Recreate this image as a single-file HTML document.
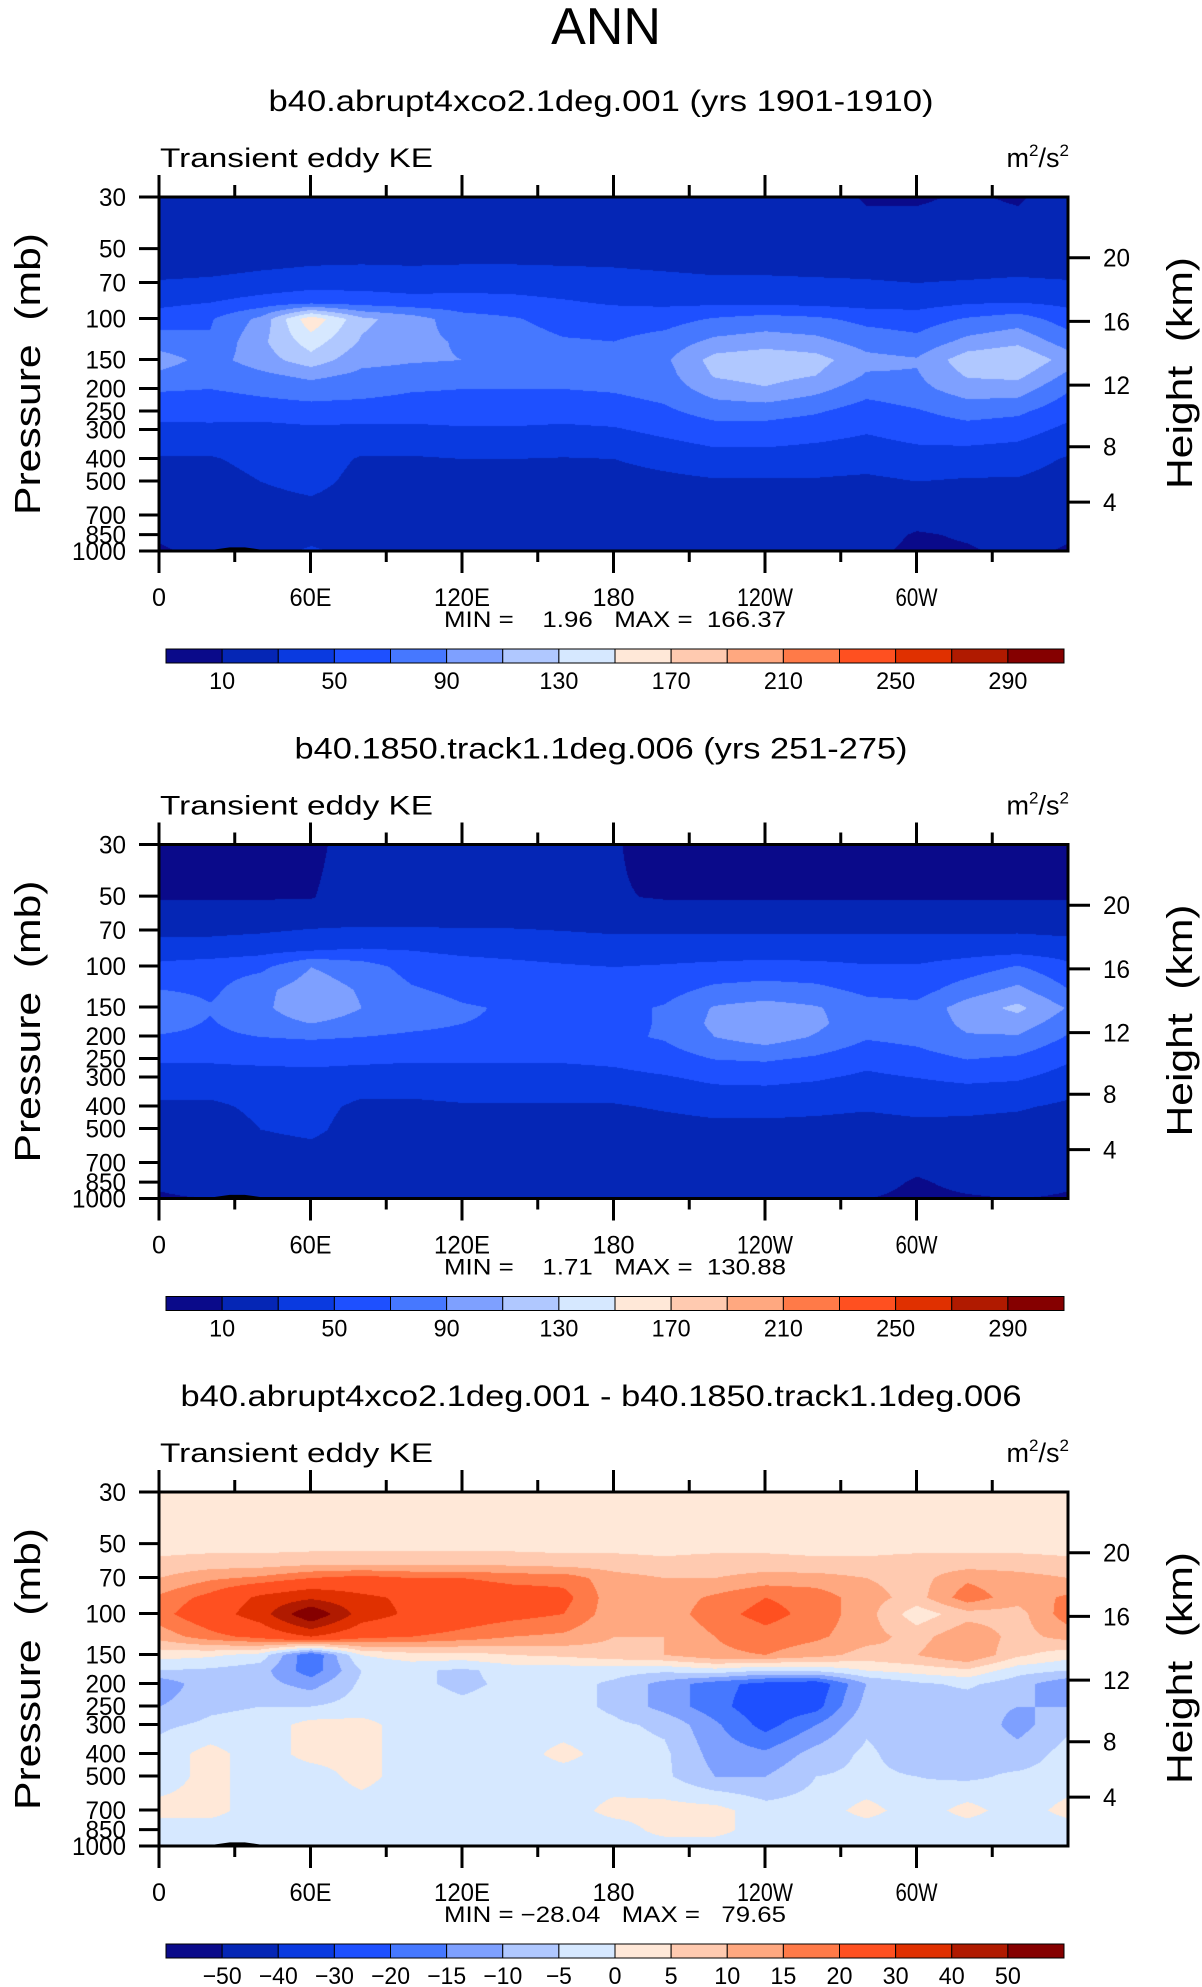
<!DOCTYPE html>
<html><head><meta charset="utf-8"><style>
html,body{margin:0;padding:0;background:#fff;}
#wrap{position:relative;width:1202px;height:1987px;overflow:hidden;}
canvas{position:absolute;}
svg{position:absolute;left:0;top:0;}
text{white-space:pre;}
</style></head><body>
<div id="wrap">
<canvas id="c0"></canvas>
<canvas id="c1"></canvas>
<canvas id="c2"></canvas>
<svg id="s" width="1202" height="1987" xmlns="http://www.w3.org/2000/svg"></svg>
</div>
<script>
const lons=[0,20,40,60,80,100,120,140,160,180,200,220,240,260,280,300,320,340,360];
const pLevels=[30,50,60,70,85,100,125,150,175,200,250,300,400,500,700,850,1000];
const pTicks=[30,50,70,100,150,200,250,300,400,500,700,850,1000];
const hTicks=[4,8,12,16,20];
const lonTicks=[0,60,120,180,240,300];
const lonTickLabels=["0","60E","120E","180","120W","60W"];
const colors=["#0a0a8a","#0526b5","#0a3ae0","#1e50ff","#4678ff","#7ea0ff","#b0c8ff","#d6e8ff","#ffe8d8","#ffcab0","#ffa880","#ff7a48","#ff5020","#e03000","#b01a00","#850000"];
const levelsKE=[10,30,50,70,90,110,130,150,170,190,210,230,250,270,290];
const levelsDiff=[-50,-40,-30,-20,-15,-10,-5,0,5,10,15,20,30,40,50];
const labelsKE=["10","","50","","90","","130","","170","","210","","250","","290"];
const labelsDiff=["\u221250","\u221240","\u221230","\u221220","\u221215","\u221210","\u22125","0","5","10","15","20","30","40","50"];
const titles=["b40.abrupt4xco2.1deg.001 (yrs 1901-1910)","b40.1850.track1.1deg.006 (yrs 251-275)","b40.abrupt4xco2.1deg.001 - b40.1850.track1.1deg.006"];
const minmax=["MIN =    1.96   MAX =  166.37","MIN =    1.71   MAX =  130.88","MIN = \u221228.04   MAX =   79.65"];
const terrainLon=[8,14,22,28,34,40,44];
const terrainP=[1000,985,985,965,965,985,1000];
const ke1=[
[20,20,20,20,20,20,20,20,20,20,20,20,20,20,8,8,12,8,20],
[20,20,20,20,20,20,20,20,20,20,20,20,20,20,20,20,20,20,20],
[22,24,28,31,32,31,32,32,31,30,28,26,26,25,24,22,22,24,22],
[32,34,38,42,42,40,42,42,40,38,36,34,34,33,32,30,32,34,32],
[45,50,58,65,62,58,58,56,52,48,46,46,46,44,42,42,48,50,45],
[60,68,95,165,115,100,78,72,62,60,62,72,78,74,64,60,72,80,60],
[80,72,105,140,108,95,88,80,72,70,78,95,100,96,82,76,96,105,80],
[100,82,100,122,96,92,90,80,76,76,86,118,125,118,96,92,122,130,100],
[85,75,85,95,85,82,80,76,74,74,82,112,118,110,88,88,112,115,85],
[72,70,75,80,78,72,70,70,70,72,78,100,108,96,78,84,100,100,72],
[56,56,60,62,60,58,58,58,58,60,66,78,78,72,60,68,78,74,56],
[45,46,42,46,45,46,48,48,46,48,55,62,62,58,52,58,62,58,45],
[28,28,36,40,28,28,30,30,29,30,36,42,42,40,38,42,40,38,28],
[22,22,30,36,24,22,22,22,22,22,25,28,28,28,26,30,28,28,22],
[20,20,20,22,20,20,20,20,20,20,20,20,20,20,20,18,20,20,20],
[12,18,20,20,20,20,20,20,20,20,20,20,20,20,18,8,12,18,12],
[8,14,14,35,18,18,18,18,16,14,14,14,14,14,14,6,8,14,8]];
const ke2=[
[5,5,5,5,20,20,20,20,20,11,5,5,5,5,5,5,5,5,5],
[9,9,9,9,20,20,20,20,20,11,9,9,9,9,9,9,9,9,9],
[16,16,16,18,20,20,20,20,20,18,16,16,16,16,16,16,16,16,16],
[26,26,28,32,34,34,32,32,30,28,28,28,28,28,28,28,28,28,26],
[40,40,44,50,52,50,46,44,42,40,40,40,40,40,40,40,42,44,40],
[55,60,65,90,80,62,58,55,52,50,52,55,58,56,52,52,60,72,55],
[70,65,85,100,88,72,65,62,58,58,62,75,78,75,65,62,80,95,70],
[88,72,85,105,90,80,72,68,64,64,72,92,98,92,78,76,100,115,88],
[78,68,80,90,82,76,70,68,64,64,72,95,105,95,76,76,95,100,78],
[68,65,70,72,70,66,64,64,64,66,72,90,100,88,72,76,88,88,68],
[52,52,55,56,54,52,52,52,52,54,60,70,72,66,56,62,70,66,52],
[42,42,40,42,40,40,42,42,42,44,48,54,55,52,46,50,54,52,42],
[26,26,34,36,26,26,28,28,28,28,32,36,36,34,32,35,34,32,26],
[20,20,30,34,22,20,20,20,20,20,22,24,24,24,22,24,24,22,20],
[18,18,18,20,18,18,18,18,18,18,18,18,18,18,18,14,18,18,18],
[12,16,18,18,18,18,18,18,18,18,18,18,18,18,16,8,14,16,12],
[8,10,10,26,14,14,14,14,12,10,10,10,10,10,10,6,8,10,8]];
const keDiff=[
[2,2,2,2,2,2,2,2,2,2,2,2,2,2,2,2,2,2,2],
[3,3,3,3,3,3,3,3,3,3,3,3,3,3,3,3,3,3,3],
[6,7,7,8,8,8,8,8,7,7,6,7,7,6,6,7,7,7,6],
[10,14,16,20,22,20,20,18,18,12,10,10,12,12,10,8,14,12,10],
[16,22,32,38,32,28,26,24,22,12,12,16,20,18,12,8,18,12,16],
[18,25,35,60,35,28,24,22,20,12,12,18,22,18,12,2,8,8,18],
[12,18,22,30,22,20,18,15,14,10,10,15,18,16,12,8,14,8,12],
[2,1,-2,-20,0,3,3,5,6,8,10,14,15,12,8,10,15,6,2],
[-5,-6,-8,-18,-5,-4,-6,-3,-3,-3,-4,-2,-5,-4,0,2,4,-3,-5],
[-14,-6,-8,-12,-4,-4,-6,-4,-3,-6,-12,-18,-22,-24,-10,-6,-4,-8,-14],
[-10,-6,-5,-5,-3,-3,-4,-3,-3,-6,-12,-18,-24,-22,-8,-8,-8,-10,-10],
[-6,-4,-3,2,2,-3,-3,-3,-3,-4,-6,-14,-22,-15,-6,-8,-6,-12,-6],
[-3,2,-3,2,2,-3,-3,-3,2,-3,-4,-12,-14,-8,-4,-8,-6,-8,-3],
[-3,2,-3,-3,2,-3,-3,-3,-3,-3,-4,-10,-10,-5,-4,-5,-6,-4,-3],
[2,2,-3,-3,-3,-3,-3,-3,-3,2,2,2,-3,-3,2,-3,2,-3,2],
[-3,-3,-3,-3,-3,-3,-3,-3,-3,-3,2,2,-3,-3,-3,-3,-3,-3,-3],
[-3,-3,-3,-3,-3,-3,-3,-3,-3,-3,-3,-3,-3,-3,-3,-3,-3,-3,-3]];

const panels=[{g:ke1,lv:levelsKE,lb:labelsKE},{g:ke2,lv:levelsKE,lb:labelsKE},{g:keDiff,lv:levelsDiff,lb:labelsDiff}];
const X0=159,X1=1068,DY=647.5,T0=197,B0=551;
const W=X1-X0,H=B0-T0;
const NS="http://www.w3.org/2000/svg";
const svg=document.getElementById('s');
function xOf(lon){return X0+lon/360*W;}
function yOf(p,off){return off+T0+Math.log(p/30)/Math.log(1000/30)*H;}
function pOfH(km){const h=km*1000;return h<=11000?1013.25*Math.pow(1-2.25577e-5*h,5.25588):226.32*Math.exp(-(h-11000)/6341.6);}
function el(tag,attrs,parent){const e=document.createElementNS(NS,tag);for(const k in attrs)e.setAttribute(k,attrs[k]);(parent||svg).appendChild(e);return e;}
function txt(s,x,y,size,anchor,extra){const t=el('text',Object.assign({x:x,y:y,'font-size':size,'text-anchor':anchor||'start','font-family':'"Liberation Sans", sans-serif',fill:'#000'},extra||{}));t.textContent=s;return t;}
function hexRGB(h){return [parseInt(h.substr(1,2),16),parseInt(h.substr(3,2),16),parseInt(h.substr(5,2),16)];}
const rgb=colors.map(hexRGB);
const lnL=pLevels.map(p=>Math.log(p));
function sample(g,lon,p){
  let i=Math.min(Math.floor(lon/20),lons.length-2);const fx=(lon-lons[i])/20;
  const lp=Math.log(p);let j=0;while(j<pLevels.length-2&&lnL[j+1]<lp)j++;
  const fy=Math.max(0,Math.min(1,(lp-lnL[j])/(lnL[j+1]-lnL[j])));
  const a=g[j][i]*(1-fx)+g[j][i+1]*fx,b=g[j+1][i]*(1-fx)+g[j+1][i+1]*fx;return a*(1-fy)+b*fy;}
function bin(v,lv){let k=0;while(k<lv.length&&v>=lv[k])k++;return k;}

txt("ANN",606,44,52,'middle',{'font-weight':'300',});
const subW=[665,613,841];
panels.forEach((pn,k)=>{
  const off=k*DY;
  const cv=document.getElementById('c'+k);
  cv.width=W;cv.height=H;cv.style.left=X0+'px';cv.style.top=(off+T0)+'px';
  const ctx=cv.getContext('2d');const im=ctx.createImageData(W,H);
  for(let y=0;y<H;y++){const p=30*Math.exp(y/H*Math.log(1000/30));
    for(let x=0;x<W;x++){const v=sample(pn.g,x/W*360,p);const c=rgb[bin(v,pn.lv)];const o=(y*W+x)*4;im.data[o]=c[0];im.data[o+1]=c[1];im.data[o+2]=c[2];im.data[o+3]=255;}}
  ctx.putImageData(im,0,0);
  let pts=terrainLon.map((l,i)=>xOf(l)+','+yOf(terrainP[i],off)).join(' ');
  const ter=el('polygon',{points:pts,fill:'#000'});
  
  
  const st=txt(titles[k],601,off+111,30,'middle',{textLength:subW[k],lengthAdjust:'spacingAndGlyphs'});
  
  
  const lt=txt("Transient eddy KE",160,off+167,27,'start',{textLength:273,lengthAdjust:'spacingAndGlyphs'});
  
  
  const ut=txt("",1069,off+167,27,'end');
  ut.innerHTML='m<tspan dy="-11" font-size="17">2</tspan><tspan dy="11">/s</tspan><tspan dy="-11" font-size="17">2</tspan>';
  
  
  const fr=el('rect',{x:X0,y:off+T0,width:W,height:H,fill:'none',stroke:'#000','stroke-width':3});
  
  
  pTicks.forEach(p=>{const y=yOf(p,off);el('line',{x1:X0-20,y1:y,x2:X0,y2:y,stroke:'#000','stroke-width':3});
    const t=txt(String(p),126,y+9,25,'end',{textLength:String(p).length*13.5,lengthAdjust:'spacingAndGlyphs'});
    
    });
  hTicks.forEach(h=>{const y=yOf(pOfH(h),off);el('line',{x1:X1,y1:y,x2:X1+22,y2:y,stroke:'#000','stroke-width':3});
    const t=txt(String(h),1103,y+9,25,'start',{textLength:String(h).length*13.5,lengthAdjust:'spacingAndGlyphs'});
    
    });
  for(let l=0;l<360;l+=30){const x=xOf(l);const maj=l%60===0;
    el('line',{x1:x,y1:off+T0-(maj?22:12),x2:x,y2:off+T0,stroke:'#000','stroke-width':3});
    el('line',{x1:x,y1:off+B0,x2:x,y2:off+B0+(maj?22:11),stroke:'#000','stroke-width':3});}
  lonTicks.forEach((l,i)=>{const t=txt(lonTickLabels[i],xOf(l),off+606,25,'middle',{textLength:lonTickLabels[i].length*14,lengthAdjust:'spacingAndGlyphs'});
    
    });
  const yc=off+(T0+B0)/2;
  const pt=txt("Pressure  (mb)",0,0,36,'middle',{transform:'translate(40,'+yc+') rotate(-90)',textLength:282,lengthAdjust:'spacingAndGlyphs'});
  
  
  const ht=txt("Height  (km)",0,0,36,'middle',{transform:'translate(1192,'+(off+373)+') rotate(-90)',textLength:232,lengthAdjust:'spacingAndGlyphs'});
  
  
  const mm=txt(minmax[k],615,off+627,22,'middle',{textLength:342,lengthAdjust:'spacingAndGlyphs'});
  
  
  const cbx=166,cbw=898/16;
  colors.forEach((c,i)=>{const r=el('rect',{x:cbx+i*cbw,y:off+649,width:cbw,height:14,fill:c,stroke:'#000','stroke-width':1});
    
    });
  pn.lb.forEach((s,i)=>{if(!s)return;const t=txt(s,cbx+(i+1)*cbw,off+689,24,'middle',{textLength:s.length*13,lengthAdjust:'spacingAndGlyphs'});
    
    });
});
</script>
</body></html>
